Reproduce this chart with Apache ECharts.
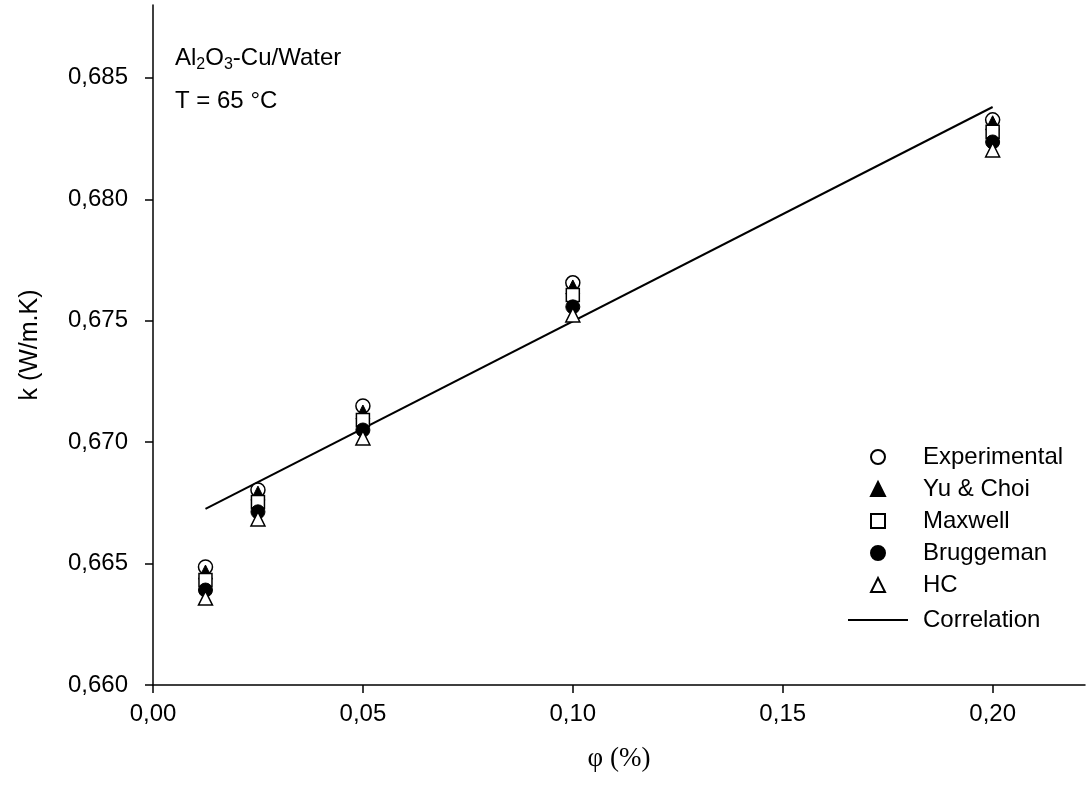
<!DOCTYPE html>
<html>
<head>
<meta charset="utf-8">
<script src="https://cdn.jsdelivr.net/npm/echarts@6/dist/echarts.min.js"></script>
<style>
  html, body { margin: 0; padding: 0; background: #fff; }
  #chart { width: 1091px; height: 805px; }
</style>
</head>
<body>
<div id="chart"></div>
<script>
const phi = [0.0125, 0.025, 0.05, 0.10, 0.20];
const experimental = [0.66486, 0.66803, 0.67149, 0.67656, 0.68327];
const yuChoi = [0.66465, 0.66790, 0.67124, 0.67639, 0.68315];
const maxwell = [0.66432, 0.66754, 0.67091, 0.67606, 0.68278];
const bruggeman = [0.66391, 0.66713, 0.67050, 0.67557, 0.68236];
const hc = [0.66358, 0.66684, 0.67017, 0.67524, 0.68203];
const correlationX = [0.0125, 0.20];
const correlationY = [0.66725, 0.68380];
const xTicks = [0, 0.05, 0.10, 0.15, 0.20];
const yTicks = [0.660, 0.665, 0.670, 0.675, 0.680, 0.685];

const font = 'Arial, "Liberation Sans", sans-serif';
const pairs = (xs, ys) => xs.map((x, i) => [x, ys[i]]);

const openStyle = { color: '#fff', borderColor: '#000', borderWidth: 1.5, opacity: 1 };
const filledStyle = { color: '#000', borderColor: '#000', borderWidth: 1, opacity: 1 };
const legendText = { fontFamily: font, fontSize: 24, color: '#000' };

function scatter(name, data, symbol, size, style) {
  return {
    name: name,
    type: 'scatter',
    data: pairs(phi, data),
    symbol: symbol,
    symbolSize: size,
    itemStyle: style,
    emphasis: { disabled: true }
  };
}

const chart = echarts.init(document.getElementById('chart'));
chart.setOption({
  animation: false,
  backgroundColor: '#fff',
  grid: { left: 153, right: 6, top: 5, bottom: 120, outerBoundsMode: 'none' },
  xAxis: {
    type: 'value',
    min: 0,
    max: 0.222,
    name: 'φ (%)',
    nameLocation: 'middle',
    nameGap: 60,
    nameTextStyle: { fontFamily: '"Liberation Serif", "DejaVu Serif", serif', fontSize: 27, color: '#000' },
    axisLine: { lineStyle: { color: '#000', width: 1.5 } },
    axisTick: { show: true, inside: false, length: 8, customValues: xTicks, lineStyle: { color: '#000', width: 1.5 } },
    axisLabel: {
      fontFamily: font, fontSize: 24, color: '#000', margin: 17,
      customValues: xTicks,
      formatter: v => v.toFixed(2).replace('.', ',')
    },
    splitLine: { show: false }
  },
  yAxis: {
    type: 'value',
    min: 0.660,
    max: 0.688,
    name: 'k (W/m.K)',
    nameLocation: 'middle',
    nameGap: 110,
    nameTextStyle: { fontFamily: font, fontSize: 25, color: '#000' },
    axisLine: { show: true, lineStyle: { color: '#000', width: 1.5 } },
    axisTick: { show: true, inside: false, length: 8, customValues: yTicks, lineStyle: { color: '#000', width: 1.5 } },
    axisLabel: {
      fontFamily: font, fontSize: 24, color: '#000', margin: 25,
      customValues: yTicks,
      formatter: v => v.toFixed(3).replace('.', ',')
    },
    splitLine: { show: false }
  },
  legend: [{
    orient: 'vertical',
    left: 865,
    top: 440,
    itemWidth: 14,
    itemHeight: 14,
    itemGap: 8,
    textStyle: Object.assign({ padding: [0, 0, 0, 33] }, legendText),
    data: ['Experimental', 'Yu & Choi', 'Maxwell', 'Bruggeman', 'HC']
  }, {
    orient: 'vertical',
    left: 842,
    top: 603,
    itemWidth: 60,
    itemHeight: 14,
    textStyle: Object.assign({ padding: [0, 0, 0, 10] }, legendText),
    data: [{ name: 'Correlation', itemStyle: { opacity: 0 } }]
  }],
  graphic: [{
    type: 'text',
    left: 175,
    top: 46,
    style: {
      text: 'Al{sub|2}O{sub|3}-Cu/Water',
      fontFamily: font,
      fontSize: 24,
      fill: '#000',
      rich: {
        sub: { fontFamily: font, fontSize: 16, padding: [14, 0, 0, 0], fill: '#000' }
      }
    }
  }, {
    type: 'text',
    left: 175,
    top: 89,
    style: { text: 'T = 65 °C', fontFamily: font, fontSize: 24, fill: '#000' }
  }],
  series: [
    {
      name: 'Correlation',
      type: 'line',
      data: pairs(correlationX, correlationY),
      symbol: 'none',
      lineStyle: { color: '#000', width: 2 },
      itemStyle: { color: '#000' },
      z: 1,
      emphasis: { disabled: true }
    },
    scatter('Experimental', experimental, 'circle', 14, openStyle),
    scatter('Yu & Choi', yuChoi, 'triangle', 14, filledStyle),
    scatter('Maxwell', maxwell, 'rect', 13, openStyle),
    scatter('Bruggeman', bruggeman, 'circle', 14, filledStyle),
    scatter('HC', hc, 'triangle', 14, openStyle)
  ]
});
</script>
</body>
</html>
